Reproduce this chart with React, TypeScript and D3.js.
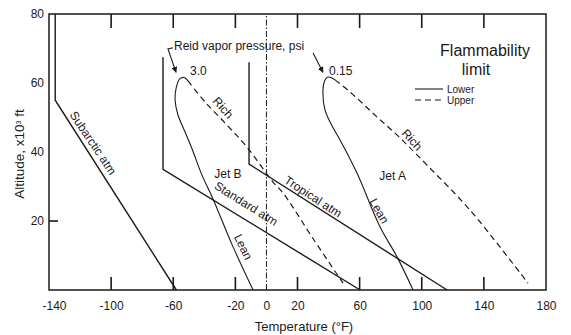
import React, { useEffect, useRef } from 'react';
import * as d3 from 'd3';

// axis ticks
const xTicks = [-140, -100, -60, -20, 0, 20, 60, 100, 140, 180];
const xInnerTicks = [-100, -60, -20, 20, 60, 100, 140];
const yTicks = [20, 40, 60, 80];
const yMarkedTicks = [20];

// atmosphere profiles, [temperature F, altitude x10^3 ft]
const subarcticAtm = [[-136, 80], [-136, 55], [-58, 0]];
const standardAtm = [[-66.6, 67.5], [-66.6, 35], [60.3, 0]];
const tropicalAtm = [[-11.2, 66], [-11.2, 36.5], [116.3, 0]];
const zeroLine = [[0, 0], [0, 80]];

// flammability limits, Jet B (3.0 psi) and Jet A (0.15 psi)
const jetBLean = [
  [-8.6, 0], [-22, 13], [-34.4, 26.4], [-41.5, 33.3], [-48, 41], [-52.6, 46],
  [-57, 50.8], [-58.8, 55], [-58, 58.8], [-55.8, 61.2], [-53, 61.6], [-50.5, 60.6],
];
const jetBRich = [
  [-50.5, 60.6], [-39.5, 54.5], [-26, 48.1], [-12.5, 41.4], [4.2, 31.3],
  [10.7, 28.1], [30.6, 14.5], [49.3, 2],
];
const jetALean = [
  [94.4, 0], [84.1, 9.6], [73.1, 18.3], [58.3, 33.9], [47.4, 43.5], [42.9, 47],
  [37.7, 52.2], [36.4, 58], [37.4, 60.6], [39.2, 61.7], [41.6, 61.6], [44.2, 60.9],
];
const jetARich = [
  [44.2, 60.9], [53.8, 57.4], [69.9, 50.7], [86, 44.1], [103.4, 36.2],
  [131, 23.2], [168.4, 2],
];

const W = 571;
const H = 335;
const FONT = '"Liberation Sans", Arial, sans-serif';
const INK = '#1a1a1a';

const x = d3.scaleLinear().domain([-140, 180]).range([49, 546]);
const y = d3.scaleLinear().domain([0, 80]).range([290, 14]);

export default function App() {
  const ref = useRef<SVGGElement>(null);

  useEffect(() => {
    const svg = d3.select(ref.current);
    svg.selectAll('*').remove();

    const line = d3.line<number[]>().x((d) => x(d[0])).y((d) => y(d[1]));
    const curve = d3
      .line<number[]>()
      .x((d) => x(d[0]))
      .y((d) => y(d[1]))
      .curve(d3.curveCatmullRom.alpha(0.5));

    svg
      .append('defs')
      .append('marker')
      .attr('id', 'arrow')
      .attr('viewBox', '0 0 10 10')
      .attr('refX', 9)
      .attr('refY', 5)
      .attr('markerWidth', 6)
      .attr('markerHeight', 6)
      .attr('markerUnits', 'userSpaceOnUse')
      .attr('orient', 'auto')
      .append('path')
      .attr('d', 'M0,0L10,5L0,10z')
      .attr('fill', INK);

    // tick labels
    const bottom = svg
      .append('g')
      .attr('transform', `translate(0,${y(0)})`)
      .call(
        d3
          .axisBottom(x)
          .tickValues(xTicks)
          .tickSize(0)
          .tickPadding(11)
          .tickFormat((d) => String(d))
      );
    bottom
      .selectAll('.tick text')
      .filter((d) => d === xTicks[0])
      .attr('dx', 5);

    const left = svg
      .append('g')
      .attr('transform', `translate(${x(-140)},0)`)
      .call(d3.axisLeft(y).tickValues(yTicks).tickSize(0).tickPadding(5).tickFormat((d) => String(d)));

    [bottom, left].forEach((g) => {
      g.select('.domain').remove();
      g.selectAll('.tick line').remove();
      g.selectAll('.tick text').attr('fill', INK).style('font-family', FONT).style('font-size', '12px');
    });

    // frame
    svg
      .append('rect')
      .attr('x', x(-140))
      .attr('y', y(80))
      .attr('width', x(180) - x(-140))
      .attr('height', y(0) - y(80))
      .attr('fill', 'none')
      .attr('stroke', INK)
      .attr('stroke-width', 1.5);

    // zero line
    svg
      .append('path')
      .attr('d', line(zeroLine))
      .attr('fill', 'none')
      .attr('stroke', INK)
      .attr('stroke-width', 1)
      .attr('stroke-dasharray', '6,2,1.5,2');

    // atmospheres
    [subarcticAtm, standardAtm, tropicalAtm].forEach((d) => {
      svg
        .append('path')
        .attr('d', line(d))
        .attr('fill', 'none')
        .attr('stroke', INK)
        .attr('stroke-width', 1.4);
    });

    // flammability curves
    [jetBLean, jetALean].forEach((d) => {
      svg
        .append('path')
        .attr('d', curve(d))
        .attr('fill', 'none')
        .attr('stroke', INK)
        .attr('stroke-width', 1.1);
    });
    [jetBRich, jetARich].forEach((d) => {
      svg
        .append('path')
        .attr('d', curve(d))
        .attr('fill', 'none')
        .attr('stroke', INK)
        .attr('stroke-width', 1.2)
        .attr('stroke-dasharray', '6,4');
    });

    // curve labels
    const labels = [
      { t: 'Subarctic atm', T: -111.7, a: 42.6, r: 56 },
      { t: 'Rich', T: -28, a: 52.8, r: 48 },
      { t: 'Standard atm', T: -13.1, a: 25, r: 32 },
      { t: 'Lean', T: -15, a: 12.5, r: 64 },
      { t: 'Tropical atm', T: 30, a: 27, r: 33 },
      { t: 'Lean', T: 72.5, a: 22.9, r: 60 },
      { t: 'Rich', T: 93.7, a: 43.5, r: 48, halo: true },
      { t: 'Jet B', T: -24.8, a: 33.5, r: 0 },
      { t: 'Jet A', T: 81.2, a: 32.9, r: 0 },
    ];
    labels.forEach((l) => {
      const txt = svg
        .append('text')
        .attr('transform', `translate(${x(l.T)},${y(l.a)}) rotate(${l.r})`)
        .attr('text-anchor', 'middle')
        .attr('dominant-baseline', 'central')
        .style('font-family', FONT)
        .style('font-size', '12px')
        .attr('fill', INK)
        .text(l.t);
      if (l.halo) {
        txt.attr('stroke', 'white').attr('stroke-width', 4).attr('paint-order', 'stroke');
      }
    });

    // Reid vapor pressure annotation
    const note = (s: string, T: number, a: number) =>
      svg
        .append('text')
        .attr('x', x(T))
        .attr('y', y(a))
        .style('font-family', FONT)
        .style('font-size', '12px')
        .attr('fill', INK)
        .text(s);
    note('Reid vapor pressure, psi', -59.5, 69.6);
    note('3.0', -49.2, 62.3);
    note('0.15', 40.3, 62.3);
    const leaders = [
      [[-60.2, 70.2], [-63.4, 69.9], [-58.2, 63.1]],
      [[30, 68.7], [36.4, 63.1]],
    ];
    leaders.forEach((d) => {
      svg
        .append('path')
        .attr('d', line(d))
        .attr('fill', 'none')
        .attr('stroke', INK)
        .attr('stroke-width', 1.1)
        .attr('marker-end', 'url(#arrow)');
    });

    // legend
    const lg = svg.append('g').style('font-family', FONT).attr('fill', INK);
    lg.append('text').attr('x', 485).attr('y', 56).attr('text-anchor', 'middle').style('font-size', '16px').text('Flammability');
    lg.append('text').attr('x', 476).attr('y', 75).attr('text-anchor', 'middle').style('font-size', '16px').text('limit');
    lg.append('line').attr('x1', 415).attr('x2', 443).attr('y1', 89).attr('y2', 89).attr('stroke', INK).attr('stroke-width', 1.1);
    lg.append('line').attr('x1', 415).attr('x2', 443).attr('y1', 100).attr('y2', 100).attr('stroke', INK).attr('stroke-width', 1.1).attr('stroke-dasharray', '6,4');
    lg.append('text').attr('x', 447).attr('y', 92.5).style('font-size', '10px').text('Lower');
    lg.append('text').attr('x', 447).attr('y', 103.5).style('font-size', '10px').text('Upper');

    // axis titles
    svg
      .append('text')
      .attr('x', 304)
      .attr('y', 331)
      .attr('text-anchor', 'middle')
      .style('font-family', FONT)
      .style('font-size', '13px')
      .attr('fill', INK)
      .text('Temperature (°F)');
    const yt = svg
      .append('text')
      .attr('transform', 'translate(24,154) rotate(-90)')
      .attr('text-anchor', 'middle')
      .style('font-family', FONT)
      .style('font-size', '13.5px')
      .attr('fill', INK);
    yt.append('tspan').text('Altitude, x10');
    yt.append('tspan').attr('baseline-shift', 'super').style('font-size', '7px').text('3');
    yt.append('tspan').text(' ft');
  }, []);

  // inward tick marks drawn in JSX from the scales
  return (
    <svg width={W} height={H} style={{ position: 'absolute', left: 0, top: 0, background: 'white' }}>
      <g ref={ref} />
      <g stroke={INK} strokeWidth={1.6}>
        {xInnerTicks.map((d) => (
          <g key={d}>
            <line x1={x(d)} x2={x(d)} y1={y(0)} y2={y(0) - 13} />
            <line x1={x(d)} x2={x(d)} y1={y(80)} y2={y(80) + 14} />
          </g>
        ))}
        {yMarkedTicks.map((d) => (
          <line key={d} x1={x(-140)} x2={x(-140) + 9} y1={y(d)} y2={y(d)} />
        ))}
      </g>
    </svg>
  );
}
